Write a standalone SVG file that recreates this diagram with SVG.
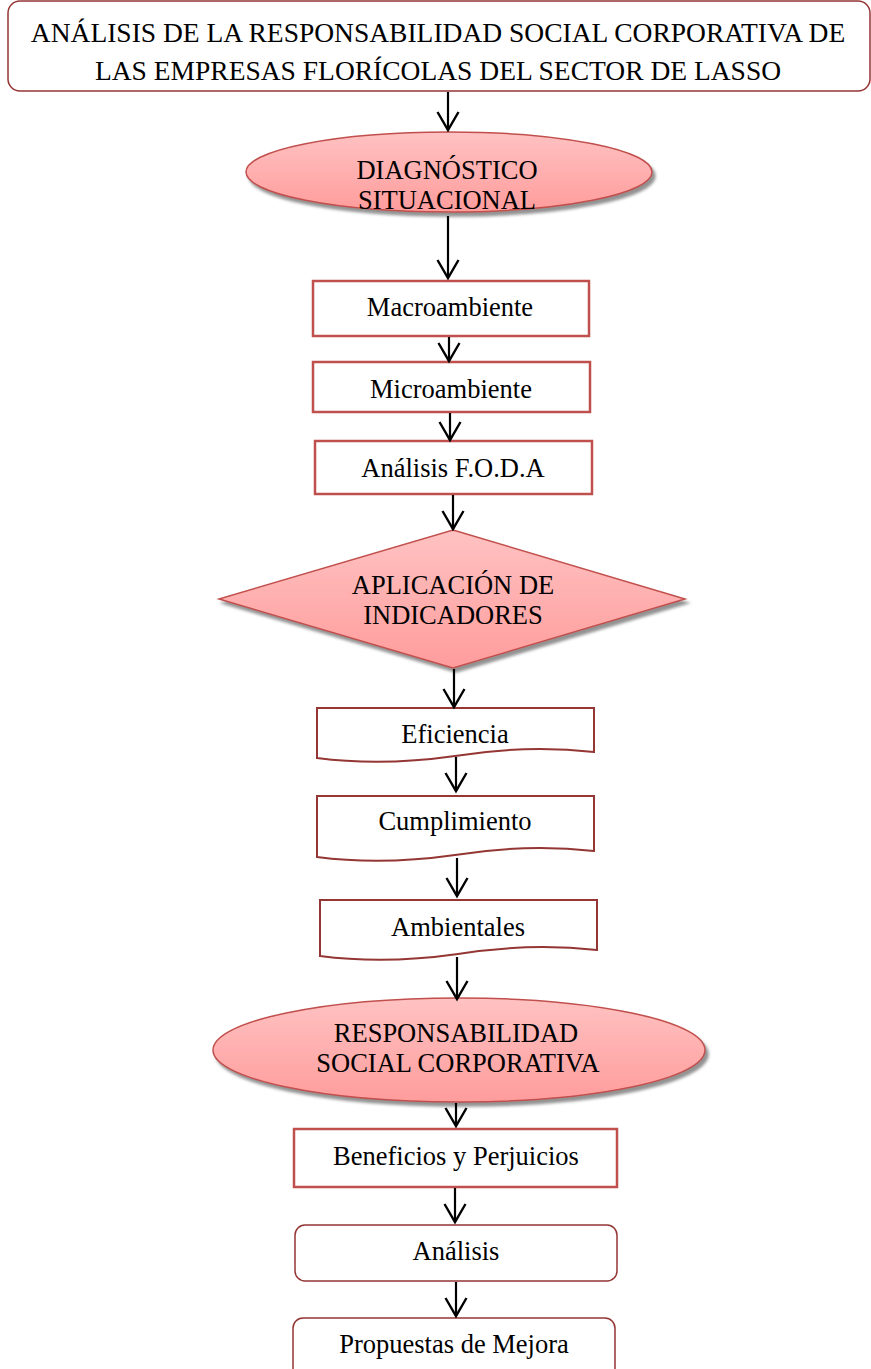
<svg xmlns="http://www.w3.org/2000/svg" width="871" height="1369" viewBox="0 0 871 1369">
<defs>
<linearGradient id="pink" x1="0" y1="0" x2="0" y2="1">
<stop offset="0" stop-color="#ffc2c2"/>
<stop offset="1" stop-color="#ff9c9c"/>
</linearGradient>
<marker id="arr" viewBox="0 0 24 24" refX="21" refY="12" markerWidth="24" markerHeight="24" markerUnits="userSpaceOnUse" orient="auto">
<path d="M3,1.5 L21,12 L3,22.5" fill="none" stroke="#000" stroke-width="2.4"/>
</marker>
<filter id="sh" x="-10%" y="-10%" width="130%" height="130%">
<feGaussianBlur in="SourceAlpha" stdDeviation="1.5"/>
<feOffset dx="3" dy="4" result="o"/>
<feFlood flood-color="#777" flood-opacity="0.8"/>
<feComposite in2="o" operator="in"/>
<feMerge><feMergeNode/><feMergeNode in="SourceGraphic"/></feMerge>
</filter>
</defs>
<style>
.t27{font-size:27.5px;}
.t26{font-size:26.5px;}
.box{fill:#fff;stroke:#c0504d;stroke-width:2.5;}
.rbox{fill:#fff;stroke:#943634;stroke-width:1.5;}
.doc{fill:#fff;stroke:#943634;stroke-width:2;}
.pk{fill:url(#pink);stroke:#c0504d;stroke-width:1.5;filter:url(#sh);}
.conn line{stroke:#000;stroke-width:2.2;marker-end:url(#arr);}
</style>
<g font-family="'Liberation Serif', 'Times New Roman', serif" text-anchor="middle" fill="#000">
<g id="title">
<rect x="8" y="1" width="862" height="90" rx="12" class="rbox"/>
<text class="t27" x="438" y="42">ANÁLISIS DE LA RESPONSABILIDAD SOCIAL CORPORATIVA DE</text>
<text class="t27" x="438" y="80">LAS EMPRESAS FLORÍCOLAS DEL SECTOR DE LASSO</text>
</g>

<g id="diagnostico">
<ellipse cx="449" cy="172" rx="203" ry="40" class="pk"/>
<text class="t26" x="447" y="179">DIAGNÓSTICO</text>
<text class="t26" x="447" y="209">SITUACIONAL</text>
</g>

<g id="macro">
<rect x="313" y="281" width="276" height="55" class="box"/>
<text class="t26" x="450" y="316">Macroambiente</text>
</g>

<g id="micro">
<rect x="313" y="362" width="277" height="50" class="box"/>
<text class="t26" x="451" y="398">Microambiente</text>
</g>

<g id="foda">
<rect x="315" y="441" width="277" height="53" class="box"/>
<text class="t26" x="453" y="477">Análisis F.O.D.A</text>
</g>

<g id="indicadores">
<polygon points="453,530 685,599 453,668 219,599" class="pk"/>
<text class="t26" x="453" y="594">APLICACIÓN DE</text>
<text class="t26" x="453" y="624">INDICADORES</text>
</g>

<g id="eficiencia">
<path d="M317,708 H594 V752 C530,745 480,752 455,756 C420,761 370,765 317,758 Z" class="doc"/>
<text class="t26" x="455" y="743">Eficiencia</text>
</g>

<g id="cumplimiento">
<path d="M317,796 H594 V851 C530,844 480,851 455,855 C420,860 370,864 317,857 Z" class="doc"/>
<text class="t26" x="455" y="830">Cumplimiento</text>
</g>

<g id="ambientales">
<path d="M320,900 H597 V950 C533,943 483,950 458,954 C423,959 373,963 320,956 Z" class="doc"/>
<text class="t26" x="458" y="936">Ambientales</text>
</g>

<g id="rsc">
<ellipse cx="459" cy="1050" rx="246" ry="52" class="pk"/>
<text class="t26" x="456" y="1042">RESPONSABILIDAD</text>
<text class="t26" x="458" y="1072">SOCIAL CORPORATIVA</text>
</g>

<g id="beneficios">
<rect x="294" y="1129" width="323" height="58" class="box"/>
<text class="t26" x="456" y="1165">Beneficios y Perjuicios</text>
</g>

<g id="analisis">
<rect x="295" y="1225" width="322" height="56" rx="10" class="rbox"/>
<text class="t26" x="456" y="1260">Análisis</text>
</g>

<g id="propuestas">
<rect x="293" y="1318" width="322" height="60" rx="10" class="rbox"/>
<text class="t26" x="454" y="1353">Propuestas de Mejora</text>
</g>
</g>
<g class="conn" id="connectors">
<line x1="448" y1="92" x2="448" y2="130"/>
<line x1="448" y1="216" x2="448" y2="278"/>
<line x1="449" y1="337" x2="449" y2="361"/>
<line x1="450" y1="413" x2="450" y2="440"/>
<line x1="453" y1="495" x2="453" y2="529"/>
<line x1="454" y1="669" x2="454" y2="707"/>
<line x1="456" y1="757" x2="456" y2="791"/>
<line x1="457" y1="858" x2="457" y2="896"/>
<line x1="457" y1="957" x2="457" y2="999"/>
<line x1="456" y1="1103" x2="456" y2="1126"/>
<line x1="455" y1="1188" x2="455" y2="1222"/>
<line x1="456" y1="1282" x2="456" y2="1316"/>
</g>
</svg>
